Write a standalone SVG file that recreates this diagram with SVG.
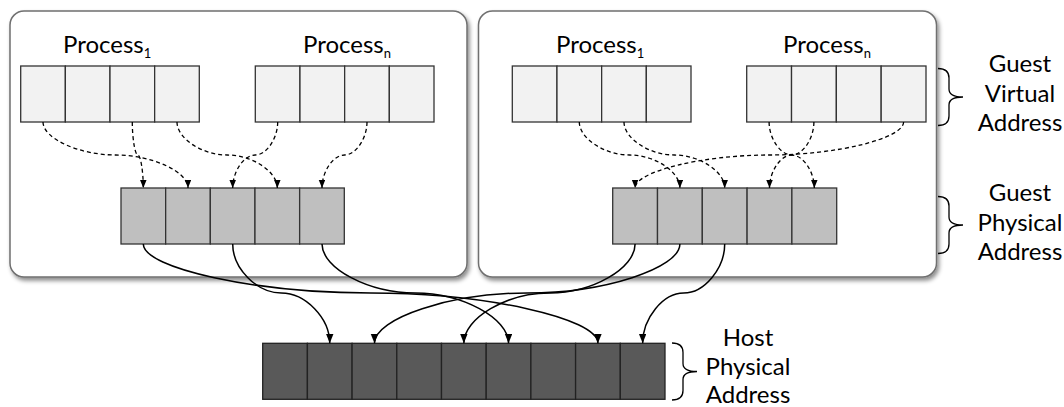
<svg xmlns="http://www.w3.org/2000/svg" width="1064" height="407" viewBox="0 0 1064 407">
<style>
.lbl{font-family:Lato,"Liberation Sans",sans-serif;font-size:24px;fill:#000}
.sub{font-size:13px}
.panel{fill:#fff;stroke:#6f6f6f;stroke-width:1.5}
.va{fill:#f2f2f2;stroke:#333;stroke-width:1.3}
.gp{fill:#bfbfbf;stroke:#333;stroke-width:1.3}
.hp{fill:#595959;stroke:#222;stroke-width:1.3}
.dash{fill:none;stroke:#000;stroke-width:1.3;stroke-dasharray:4 3;marker-end:url(#ad)}
.sol{fill:none;stroke:#000;stroke-width:1.5;marker-end:url(#as)}
.brace{fill:none;stroke:#000;stroke-width:1.3}
</style>
<defs>
<filter id="sh" x="-5%" y="-5%" width="110%" height="115%">
<feDropShadow dx="2" dy="3" stdDeviation="2" flood-color="#000" flood-opacity="0.45"/>
</filter>
<marker id="ad" markerUnits="userSpaceOnUse" markerWidth="8" markerHeight="7" refX="8" refY="3.25" orient="auto"><path d="M0,0 L8,3.25 L0,6.5 z" fill="#000"/></marker>
<marker id="as" markerUnits="userSpaceOnUse" markerWidth="10" markerHeight="8" refX="9.5" refY="3.75" orient="auto"><path d="M0,0 L9.5,3.75 L0,7.5 z" fill="#000"/></marker>
</defs>

<g id="panel-left"><rect class="panel" x="10" y="11" width="457" height="266" rx="14" filter="url(#sh)"/></g>
<g id="panel-right"><rect class="panel" x="478.5" y="11" width="458" height="266" rx="14" filter="url(#sh)"/></g>

<g id="left-process1">
<text class="lbl" x="63" y="53">Process<tspan class="sub" dy="5">1</tspan></text>
<rect class="va" x="20.7" y="66" width="44.65" height="56"/>
<rect class="va" x="65.35" y="66" width="44.65" height="56"/>
<rect class="va" x="110" y="66" width="44.65" height="56"/>
<rect class="va" x="154.65" y="66" width="44.65" height="56"/>
</g>
<g id="left-processn">
<text class="lbl" x="303" y="53">Process<tspan class="sub" dy="5">n</tspan></text>
<rect class="va" x="255.3" y="66" width="44.675" height="56"/>
<rect class="va" x="299.975" y="66" width="44.675" height="56"/>
<rect class="va" x="344.65" y="66" width="44.675" height="56"/>
<rect class="va" x="389.325" y="66" width="44.675" height="56"/>
</g>
<g id="left-gpa">
<rect class="gp" x="121" y="188" width="44.66" height="56"/>
<rect class="gp" x="165.66" y="188" width="44.66" height="56"/>
<rect class="gp" x="210.32" y="188" width="44.66" height="56"/>
<rect class="gp" x="254.98" y="188" width="44.66" height="56"/>
<rect class="gp" x="299.64" y="188" width="44.66" height="56"/>
</g>

<g id="right-process1">
<text class="lbl" x="556" y="53">Process<tspan class="sub" dy="5">1</tspan></text>
<rect class="va" x="512.3" y="66" width="44.675" height="56"/>
<rect class="va" x="556.975" y="66" width="44.675" height="56"/>
<rect class="va" x="601.65" y="66" width="44.675" height="56"/>
<rect class="va" x="646.325" y="66" width="44.675" height="56"/>
</g>
<g id="right-processn">
<text class="lbl" x="783" y="53">Process<tspan class="sub" dy="5">n</tspan></text>
<rect class="va" x="746.7" y="66" width="44.825" height="56"/>
<rect class="va" x="791.525" y="66" width="44.825" height="56"/>
<rect class="va" x="836.35" y="66" width="44.825" height="56"/>
<rect class="va" x="881.175" y="66" width="44.825" height="56"/>
</g>
<g id="right-gpa">
<rect class="gp" x="612.7" y="188" width="44.8" height="56"/>
<rect class="gp" x="657.5" y="188" width="44.8" height="56"/>
<rect class="gp" x="702.3" y="188" width="44.8" height="56"/>
<rect class="gp" x="747.1" y="188" width="44.8" height="56"/>
<rect class="gp" x="791.9" y="188" width="44.8" height="56"/>
</g>

<g id="host-pa">
<rect class="hp" x="262.7" y="343.3" width="44.7" height="56"/>
<rect class="hp" x="307.4" y="343.3" width="44.7" height="56"/>
<rect class="hp" x="352.1" y="343.3" width="44.7" height="56"/>
<rect class="hp" x="396.8" y="343.3" width="44.7" height="56"/>
<rect class="hp" x="441.5" y="343.3" width="44.7" height="56"/>
<rect class="hp" x="486.2" y="343.3" width="44.7" height="56"/>
<rect class="hp" x="530.9" y="343.3" width="44.7" height="56"/>
<rect class="hp" x="575.6" y="343.3" width="44.7" height="56"/>
<rect class="hp" x="620.3" y="343.3" width="44.7" height="56"/>
</g>

<g id="label-gva">
<path class="brace" d="M938,68.5 C945,68.5 949,71 949,78 L949,89 C949,94 954,97 963,97 C954,97 949,100 949,105 L949,116 C949,123 945,125.5 938,125.5"/>
<text class="lbl" text-anchor="middle" x="1020" y="72">Guest</text>
<text class="lbl" text-anchor="middle" x="1020" y="101.5">Virtual</text>
<text class="lbl" text-anchor="middle" x="1020" y="131">Address</text>
</g>
<g id="label-gpa">
<path class="brace" d="M938,196.5 C945,196.5 949,199 949,206 L949,217 C949,222 954,225 963,225 C954,225 949,228 949,233 L949,244 C949,251 945,253.5 938,253.5"/>
<text class="lbl" text-anchor="middle" x="1020" y="201">Guest</text>
<text class="lbl" text-anchor="middle" x="1020" y="230.5">Physical</text>
<text class="lbl" text-anchor="middle" x="1020" y="260">Address</text>
</g>
<g id="label-hpa">
<path class="brace" d="M672,343 C679,343 683,345.5 683,352.5 L683,363.5 C683,368.5 688,371.5 697,371.5 C688,371.5 683,374.5 683,379.5 L683,390.5 C683,397.5 679,400 672,400"/>
<text class="lbl" text-anchor="middle" x="748" y="346">Host</text>
<text class="lbl" text-anchor="middle" x="748" y="375">Physical</text>
<text class="lbl" text-anchor="middle" x="748" y="403">Address</text>
</g>

<g id="connectors">
<path class="dash" d="M43,122 C43,138.5 79.25,155 115.5,155 C151.75,155 188,171.5 188,188"/>
<path class="dash" d="M132.3,122 C132.3,138.5 135.05,155 137.8,155 C140.55,155 143.3,171.5 143.3,188"/>
<path class="dash" d="M177,122 C177,138.5 202.1,155 227.15,155 C252.2,155 277.3,171.5 277.3,188"/>
<path class="dash" d="M277.7,122 C277.7,138.5 266.45,155 255.2,155 C243.95,155 232.7,171.5 232.7,188"/>
<path class="dash" d="M367,122 C367,138.5 355.75,155 344.5,155 C333.25,155 322,171.5 322,188"/>

<path class="dash" d="M579.3,122 C579.3,138.5 604.45,155 629.6,155 C654.75,155 679.9,171.5 679.9,188"/>
<path class="dash" d="M624,122 C624,138.5 649.2,155 674.35,155 C699.5,155 724.7,171.5 724.7,188"/>
<path class="dash" d="M769.1,122 C769.1,138.5 780.4,155 791.7,155 C803,155 814.3,171.5 814.3,188"/>
<path class="dash" d="M813.9,122 C813.9,138.5 802.8,155 791.7,155 C780.6,155 769.5,171.5 769.5,188"/>
<path class="dash" d="M903.6,122 C903.6,138.5 836.5,155 769.35,155 C702.2,155 635.1,171.5 635.1,188"/>

<path class="sol" d="M143.3,244 C143.3,268.5 256.96,293 370.6,293 C484.3,293 597.95,318 597.95,343.3"/>
<path class="sol" d="M232.7,244 C232.7,268.5 256.96,293 281.2,293 C305.5,293 329.75,318 329.75,343.3"/>
<path class="sol" d="M322,244 C322,268.5 368.6,293 415.3,293 C461.9,293 508.55,318 508.55,343.3"/>
<path class="sol" d="M635.1,244 C635.1,268.5 592.3,293 549.5,293 C506.7,293 463.85,318 463.85,343.3"/>
<path class="sol" d="M679.9,244 C679.9,268.5 603.5,293 527.2,293 C451,293 374.45,318 374.45,343.3"/>
<path class="sol" d="M724.7,244 C724.7,268.5 704.2,293 683.7,293 C663.2,293 642.65,318 642.65,343.3"/>
</g>
</svg>
